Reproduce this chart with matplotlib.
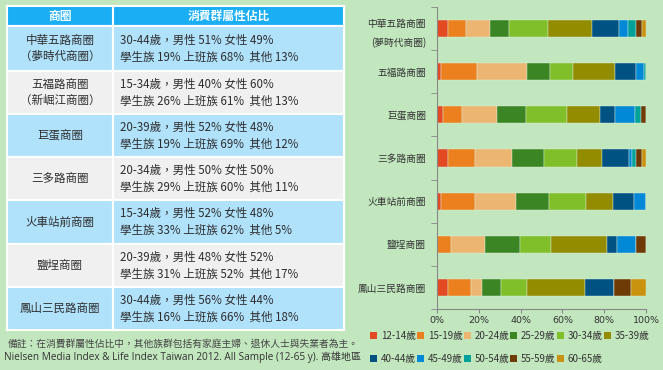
import numpy as np
import matplotlib
matplotlib.use("Agg")
from matplotlib import pyplot as plt
from matplotlib.patches import Rectangle, Patch

plt.rcParams['font.family'] = ['Noto Sans CJK TC', 'DejaVu Sans']

# ==== data
areas = ["中華五路商圈\n(夢時代商圈)", "五福路商圈", "巨蛋商圈", "三多路商圈",
         "火車站前商圈", "鹽埕商圈", "鳳山三民路商圈"]
age_groups = ["12-14歲", "15-19歲", "20-24歲", "25-29歲", "30-34歲", "35-39歲",
              "40-44歲", "45-49歲", "50-54歲", "55-59歲", "60-65歲"]

# share (%) of each age group, one value per area (same order as areas)
age_12_14 = [5.1, 2.1, 3.0, 5.1, 2.1, 0.0, 5.1]
age_15_19 = [9.0, 17.0, 9.1, 13.0, 16.0, 6.9, 11.4]
age_20_24 = [11.2, 23.8, 16.8, 17.9, 19.7, 16.0, 5.1]
age_25_29 = [9.0, 11.2, 13.9, 15.0, 15.8, 16.8, 9.0]
age_30_34 = [18.6, 11.0, 19.2, 16.0, 17.9, 15.0, 12.3]
age_35_39 = [21.1, 20.0, 16.0, 12.0, 12.6, 26.6, 27.7]
age_40_44 = [13.0, 9.9, 7.0, 13.0, 10.1, 4.8, 14.2]
age_45_49 = [4.2, 4.0, 9.9, 1.1, 5.8, 9.0, 0.0]
age_50_54 = [4.0, 1.0, 2.9, 1.9, 0.0, 0.0, 0.0]
age_55_59 = [2.9, 0.0, 2.1, 3.0, 0.0, 5.0, 8.2]
age_60_65 = [2.1, 0.0, 0.0, 1.9, 0.0, 0.0, 7.0]

colors = ["#E34A23", "#EC801E", "#ECB572", "#3B8525", "#80BF2A", "#938C00",
          "#005283", "#0189D8", "#00A19B", "#6E3A05", "#C9920F"]

# table contents
table_header = ["商圈", "消費群屬性佔比"]
table_areas = ["中華五路商圈\n（夢時代商圈）", "五福路商圈\n（新崛江商圈）", "巨蛋商圈",
               "三多路商圈", "火車站前商圈", "鹽埕商圈", "鳳山三民路商圈"]
table_desc = [
    "30-44歲，男性 51% 女性 49%\n學生族 19% 上班族 68%  其他 13%",
    "15-34歲，男性 40% 女性 60%\n學生族 26% 上班族 61%  其他 13%",
    "20-39歲，男性 52% 女性 48%\n學生族 19% 上班族 69%  其他 12%",
    "20-34歲，男性 50% 女性 50%\n學生族 29% 上班族 60%  其他 11%",
    "15-34歲，男性 52% 女性 48%\n學生族 33% 上班族 62%  其他 5%",
    "20-39歲，男性 48% 女性 52%\n學生族 31% 上班族 52%  其他 17%",
    "30-44歲，男性 56% 女性 44%\n學生族 16% 上班族 66%  其他 18%",
]
note = "備註：在消費群屬性佔比中，其他族群包括有家庭主婦、退休人士與失業者為主。"
source = "Nielsen Media Index & Life Index Taiwan 2012. All Sample (12-65 y). 高雄地區"

bg = "#C2E7BE"
W, H = 663, 370
fig = plt.figure(figsize=(W / 100, H / 100), dpi=100, facecolor=bg)

# ==== left: table drawn in pixel coordinates
tb = fig.add_axes([0, 0, 1, 1])
tb.set_xlim(0, W)
tb.set_ylim(H, 0)
tb.axis("off")

x0, xmid, x1 = 7, 113, 344
row_tops = [6, 26, 71, 114, 157, 200, 244, 287, 330]
fills = ["#1AAEF5"] + ["#B0E2FC" if i % 2 == 0 else "#F0F0F0" for i in range(7)]
for i in range(8):
    top, bot = row_tops[i], row_tops[i + 1]
    for (a, b) in [(x0, xmid), (xmid, x1)]:
        tb.add_patch(Rectangle((a, top), b - a, bot - top, facecolor=fills[i],
                               edgecolor="white", lw=1.5))
tb.text((x0 + xmid) / 2, 16.5, table_header[0], color="white", fontsize=8.5,
        fontweight="bold", ha="center", va="center")
tb.text((xmid + x1) / 2, 16.5, table_header[1], color="white", fontsize=8.5,
        fontweight="bold", ha="center", va="center")
for i in range(7):
    yc = (row_tops[i + 1] + row_tops[i + 2]) / 2
    tb.text((x0 + xmid) / 2, yc, table_areas[i], color="#2E2E2E", fontsize=8.3,
            ha="center", va="center", linespacing=1.35)
    tb.text(120, yc, table_desc[i], color="#2E2E2E", fontsize=8.3,
            ha="left", va="center", linespacing=1.35)
tb.text(8, 344, note, color="#444444", fontsize=7.05, ha="left", va="center")
tb.text(4, 357, source, color="#333333", fontsize=7.2, ha="left", va="center",
        family=["Open Sans", "Noto Sans CJK TC"])

# ==== right: 100% stacked bars
ax = fig.add_axes([437 / W, 1 - 309 / H, (646 - 437) / W, (309 - 7) / H])
ax.set_facecolor(bg)
series = [age_12_14, age_15_19, age_20_24, age_25_29, age_30_34, age_35_39,
          age_40_44, age_45_49, age_50_54, age_55_59, age_60_65]
ypos = np.arange(len(areas))
left = np.zeros(len(areas))
handles = []
for vals, col, lab in zip(series, colors, age_groups):
    ax.barh(ypos, vals, left=left, height=0.4, color=col, edgecolor="#DDEFD8",
            linewidth=0.3)
    left += np.array(vals)
    handles.append(Patch(facecolor=col, label=lab))

ax.set_xlim(0, 100)
ax.set_ylim(len(areas) - 0.5, -0.5)
ax.set_yticks(ypos)
ax.set_yticklabels(areas, fontsize=7, color="#333333", linespacing=1.9)
ax.set_yticks(np.arange(-0.5, len(areas)), minor=True)
ax.tick_params(axis="y", which="major", length=0, pad=8)
ax.tick_params(axis="y", which="minor", length=4, color="#888888", direction="out")
ax.set_xticks(np.arange(0, 101, 20))
ax.set_xticklabels([f"{v}%" for v in range(0, 101, 20)], fontsize=6.8,
                   color="#333333", family=["DejaVu Sans"])
ax.tick_params(axis="x", length=3, color="#888888", pad=2)
for s in ["top", "right"]:
    ax.spines[s].set_visible(False)
ax.spines["left"].set_color("#888888")
ax.spines["bottom"].set_color("#888888")

# legend in row-major order: 6 on the first row, 5 on the second
order = [0, 6, 1, 7, 2, 8, 3, 9, 4, 10, 5]
fig.legend([handles[i] for i in order], [age_groups[i] for i in order],
           ncol=6, loc="upper left", bbox_to_anchor=(370 / W, 1 - 331 / H),
           frameon=False, fontsize=7, handlelength=0.7, handleheight=0.7,
           handletextpad=0.4, columnspacing=0.12, labelspacing=1.3,
           borderaxespad=0, borderpad=0, labelcolor="#333333")

fig.savefig("out.png", dpi=100, facecolor=bg)
